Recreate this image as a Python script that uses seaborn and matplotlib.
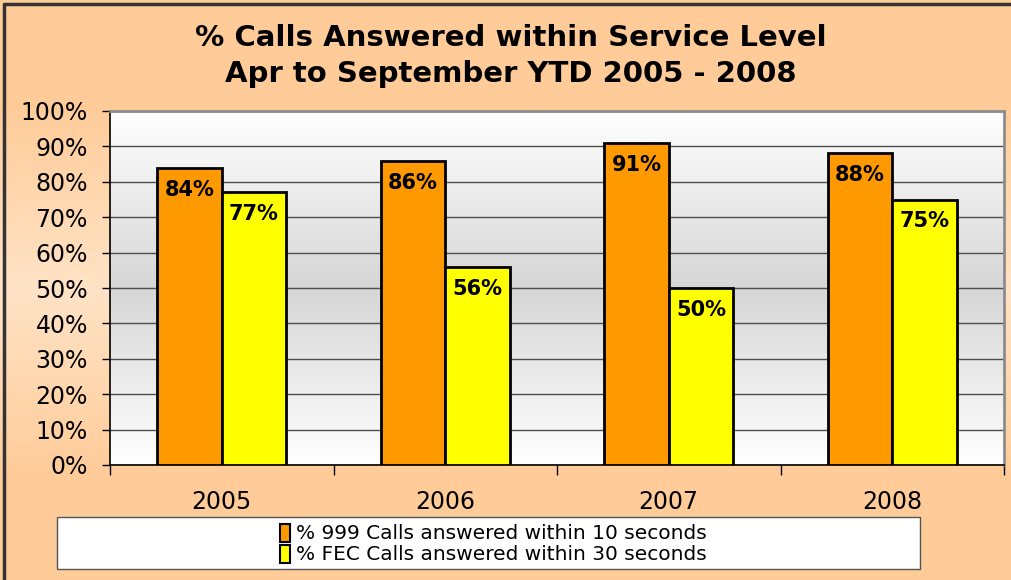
import numpy as np
import pandas as pd
import matplotlib
matplotlib.use("Agg")
import matplotlib.pyplot as plt
from matplotlib.colors import LinearSegmentedColormap
from matplotlib.patches import Rectangle
from matplotlib.ticker import FuncFormatter, FixedLocator
import seaborn as sns

sns.set_theme(style="white")
plt.rcParams["font.family"] = ["DejaVu Sans"]
plt.rcParams["text.color"] = "black"

# ---- data ----
years = ["2005", "2006", "2007", "2008"]
series_names = ["% 999 Calls answered within 10 seconds",
                "% FEC Calls answered within 30 seconds"]
calls_999 = [84, 86, 91, 88]
calls_fec = [77, 56, 50, 75]
y_ticks = [0, 10, 20, 30, 40, 50, 60, 70, 80, 90, 100]
title = "% Calls Answered within Service Level\nApr to September YTD 2005 - 2008"

df = pd.DataFrame({
    "Year": years * 2,
    "Series": [series_names[0]] * len(years) + [series_names[1]] * len(years),
    "Value": calls_999 + calls_fec,
})

orange = "#FF9900"
yellow = "#FFFF00"

W, H = 1011, 580
fig = plt.figure(figsize=(W / 100, H / 100), dpi=100)

# figure background: peach with a lighter band in the middle
bg = fig.add_axes([0, 0, 1, 1], zorder=-10)
bg_cmap = LinearSegmentedColormap.from_list(
    "peach", [(0.0, "#FFCC99"), (0.18, "#FFCC99"), (0.5, "#FFE3C6"),
              (0.82, "#FFCC99"), (1.0, "#FFCC99")])
bg.imshow(np.linspace(0, 1, 256).reshape(-1, 1), aspect="auto", cmap=bg_cmap,
          extent=(0, 1, 0, 1), origin="upper")
bg.plot([0.004, 0.004], [0, 0.993], color="#333333", lw=2.5)
bg.plot([0.004, 1], [0.993, 0.993], color="#333333", lw=2.5)
bg.set_xlim(0, 1)
bg.set_ylim(0, 1)
bg.axis("off")

# plot area
left, right, top, bottom = 110, 1004, 111, 465
ax = fig.add_axes([left / W, 1 - bottom / H, (right - left) / W, (bottom - top) / H])
ax.patch.set_alpha(0)

plot_cmap = LinearSegmentedColormap.from_list(
    "greyband", [(0.0, "#FFFFFF"), (0.5, "#D6D6D6"), (1.0, "#FFFFFF")])
ax.imshow(np.linspace(0, 1, 256).reshape(-1, 1), aspect="auto", cmap=plot_cmap,
          extent=(-0.5, 3.5, 0, 100), origin="upper", zorder=0)

sns.barplot(data=df, x="Year", y="Value", hue="Series",
            palette=[orange, yellow], width=0.575, edgecolor="black",
            linewidth=2, saturation=1, ax=ax, zorder=3, legend=True)

for cont in ax.containers:
    ax.bar_label(cont, labels=[f"{v:.0f}%" for v in cont.datavalues],
                 padding=-23, fontsize=15, fontweight="bold", color="black",
                 zorder=5)

ax.set_xlim(-0.5, 3.5)
ax.set_ylim(0, 100)
ax.set_yticks(y_ticks)
ax.yaxis.set_major_formatter(FuncFormatter(lambda v, p: f"{v:.0f}%"))
ax.grid(axis="y", color="#4d4d4d", lw=1, zorder=1)
ax.grid(axis="x", visible=False)
ax.set_axisbelow(True)
ax.set_xlabel("")
ax.set_ylabel("")

ax.tick_params(axis="y", which="major", direction="out", length=6, width=1,
               color="black", pad=10, labelsize=17, labelcolor="black", left=True)
ax.tick_params(axis="x", which="major", length=0, pad=18, labelsize=17,
               labelcolor="black")
ax.xaxis.set_minor_locator(FixedLocator([-0.5, 0.5, 1.5, 2.5, 3.5]))
ax.tick_params(axis="x", which="minor", direction="out", length=7, width=1,
               color="black", bottom=True)

for side in ["left", "bottom"]:
    ax.spines[side].set_color("black")
    ax.spines[side].set_linewidth(1.2)
for side in ["top", "right"]:
    ax.spines[side].set_color("#8c8c8c")
    ax.spines[side].set_linewidth(2)

# legend box below the chart
handles, labels = ax.get_legend_handles_labels()
ax.get_legend().remove()
fig.patches.append(Rectangle((57 / W, 1 - 569 / H), (920 - 57) / W, (569 - 517) / H,
                             transform=fig.transFigure, facecolor="white",
                             edgecolor="#555555", lw=1, zorder=1))
leg = fig.legend(handles, labels, loc="center", bbox_to_anchor=(493 / W, 1 - 544 / H),
                 frameon=False, fontsize=14.5, handlelength=0.5, handleheight=1.0,
                 handletextpad=0.3, labelspacing=0.05, borderpad=0)
for t in leg.get_texts():
    t.set_color("black")
for h in leg.legend_handles:
    h.set_edgecolor("black")
    h.set_linewidth(1.5)

fig.text(511 / W, 1 - 56 / H, title, ha="center", va="center", fontsize=21,
         fontweight="bold", linespacing=1.35, color="black")

fig.savefig("out.png", dpi=100)
